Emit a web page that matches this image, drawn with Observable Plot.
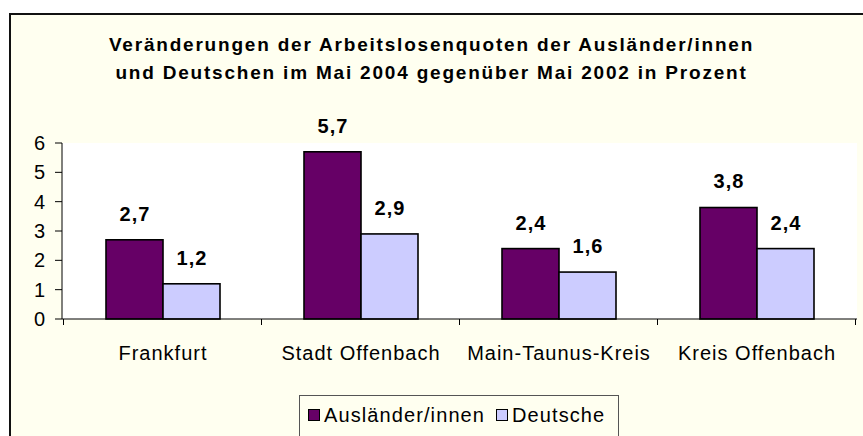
<!DOCTYPE html>
<html>
<head>
<meta charset="utf-8">
<script src="https://cdn.jsdelivr.net/npm/d3@7"></script>
<script src="https://cdn.jsdelivr.net/npm/@observablehq/plot@0.6"></script>
<style>
  html, body { margin: 0; padding: 0; background: #ffffff; }
  #wrap { position: relative; width: 863px; height: 436px; overflow: hidden; font-family: "Liberation Sans", Arial, sans-serif; }
  #frame { position: absolute; left: 9px; top: 13px; width: 900px; height: 460px; background: #FFFFF0; border-left: 2px solid #111; border-top: 2px solid #111; }
  #plotbg { position: absolute; left: 62px; top: 143px; width: 795px; height: 176px; background: #ffffff; }
  #title { position: absolute; left: 0; top: 31px; width: 863px; text-align: center; font-weight: bold; font-size: 19px; line-height: 28px; color: #000; letter-spacing: 1.8px; }
  #chart { position: absolute; left: 0; top: 0; }
  #legend { position: absolute; left: 299px; top: 395px; width: 318px; height: 60px; border: 1px solid #555; background: #FFFFF0; }
  #legend .item { position: absolute; top: 8px; font-size: 20px; line-height: 22px; letter-spacing: 1.1px; display: flex; align-items: center; white-space: nowrap; }
  #legend .sw { display: inline-block; width: 10px; height: 10px; border: 1px solid #000; margin-right: 4px; }
</style>
</head>
<body>
<div id="wrap">
  <div id="frame"></div>
  <div id="plotbg"></div>
  <div id="title">Veränderungen der Arbeitslosenquoten der Ausländer/innen<br>und Deutschen im Mai 2004 gegenüber Mai 2002 in Prozent</div>
  <div id="chart"></div>
  <div id="legend"></div>
</div>
<script>
const categories = ["Frankfurt", "Stadt Offenbach", "Main-Taunus-Kreis", "Kreis Offenbach"];
const series = ["Ausländer/innen", "Deutsche"];
const auslaender = [2.7, 5.7, 2.4, 3.8];
const deutsche = [1.2, 2.9, 1.6, 2.4];
const yTicks = [0, 1, 2, 3, 4, 5, 6];
const colors = ["#660066", "#CCCCFF"];

const data = categories.flatMap((c, i) => [
  {cat: c, s: series[0], v: auslaender[i]},
  {cat: c, s: series[1], v: deutsche[i]}
]);
const fmt = v => v.toFixed(1).replace(".", ",");

const chart = Plot.plot({
  width: 863,
  height: 436,
  marginLeft: 62,
  marginRight: 6,
  marginTop: 143,
  marginBottom: 117,
  style: {background: "transparent", fontFamily: "'Liberation Sans', Arial, sans-serif", color: "#000", overflow: "visible", letterSpacing: "1px"},
  fx: {domain: categories, paddingInner: 0.42, paddingOuter: 0.21, label: null},
  x: {domain: series, padding: 0, axis: null},
  y: {domain: [0, 6], axis: null},
  color: {domain: series, range: colors},
  marks: [
    Plot.barY(data, {fx: "cat", x: "s", y: "v", fill: "s", stroke: "#000", strokeWidth: 1.6}),
    Plot.text(data, {fx: "cat", x: "s", y: "v", text: d => fmt(d.v), dy: -26, lineAnchor: "middle", fontWeight: "bold", fontSize: 20, fill: "#000"}),
    Plot.axisFx({anchor: "bottom", tickSize: 0, tickPadding: 26, fontSize: 20, label: null, fill: "#000"})
  ]
});
document.getElementById("chart").appendChild(chart);

// axes drawn from the plot's own scales
const fxS = chart.scale("fx");
const yS = chart.scale("y");
const svg = d3.select(chart);
const g = svg.append("g").attr("stroke", "#000").attr("fill", "none");
const left = fxS.range[0], right = fxS.range[1];
const y0 = yS.apply(0), yTop = yS.apply(yS.domain[1]);
const gap = (fxS.step - fxS.bandwidth) / 2;
const bounds = categories.map(c => fxS.apply(c) - gap).concat([fxS.apply(categories[categories.length - 1]) + fxS.bandwidth + gap]);
g.append("line").attr("x1", left).attr("x2", right).attr("y1", y0).attr("y2", y0).attr("stroke-width", 1);
g.append("line").attr("x1", left).attr("x2", left).attr("y1", y0).attr("y2", yTop).attr("stroke-width", 1);
bounds.forEach(b => g.append("line").attr("x1", b).attr("x2", b).attr("y1", y0).attr("y2", y0 + 6));
yTicks.forEach(t => {
  const yy = yS.apply(t);
  g.append("line").attr("x1", left - 7).attr("x2", left).attr("y1", yy).attr("y2", yy);
  svg.append("text").attr("x", left - 16).attr("y", yy).attr("dy", "0.35em")
    .attr("text-anchor", "end").attr("font-size", 20).attr("fill", "#000").text(t);
});

// legend
const leg = document.getElementById("legend");
const offsets = [8, 196];
series.forEach((s, i) => {
  const it = document.createElement("div");
  it.className = "item";
  it.style.left = offsets[i] + "px";
  const sw = document.createElement("span");
  sw.className = "sw";
  sw.style.background = colors[i];
  it.appendChild(sw);
  it.appendChild(document.createTextNode(s));
  leg.appendChild(it);
});
</script>
</body>
</html>
